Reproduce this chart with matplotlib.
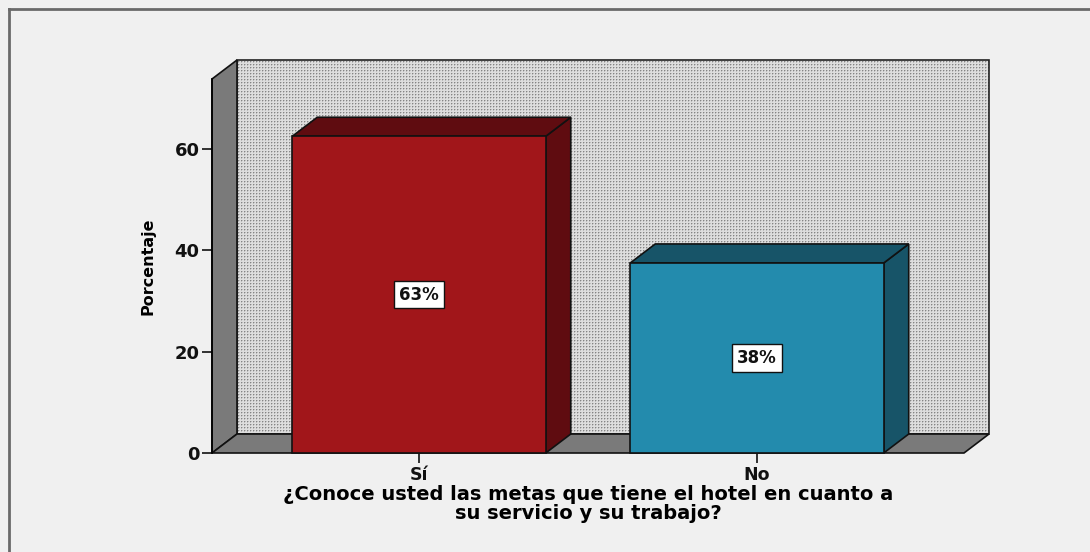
import matplotlib
matplotlib.use("Agg")
import numpy as np
import matplotlib.pyplot as plt
from matplotlib.patches import Polygon, Rectangle
from matplotlib.lines import Line2D

categories = ["Sí", "No"]
values = [62.5, 37.5]
labels = ["63%", "38%"]
yticks = [0, 20, 40, 60]
xlabel = "¿Conoce usted las metas que tiene el hotel en cuanto a\nsu servicio y su trabajo?"
ylabel = "Porcentaje"

front_colors = ["#A1161A", "#238BAD"]
dark_colors = ["#5F0C10", "#175468"]
bg = "#F0F0F0"
wall_grey = "#7A7A7A"

W, H = 1090, 552
fig = plt.figure(figsize=(W / 100, H / 100), dpi=100, facecolor=bg)

# axes region in pixels (front box)
L, R, B, T = 212, 964, 453, 79
ax = fig.add_axes([L / W, 1 - B / H, (R - L) / W, (B - T) / H])
ax.set_facecolor("none")
ymax = 73.8
xmin, xmax = -0.6125, 1.6125

ppx = (R - L) / (xmax - xmin)
ppy = (B - T) / ymax
dx = 25 / ppx
dy = 19 / ppy

# back wall: dotted texture
wpx, hpx = R - L, B - T
rr, cc = np.mgrid[0:hpx, 0:wpx]
ra, ca = rr % 3, cc % 3
tex = np.full((hpx, wpx), 0.87)
tex[((ra == 1) & (ca == 2)) | ((ra == 2) & (ca == 1))] = 0.74
tex[(ra == 1) & (ca == 1)] = 0.52
tex = np.repeat(tex[..., None], 3, axis=2)
ax.imshow(tex, extent=(xmin + dx, xmax + dx, dy, ymax + dy), origin="upper",
          interpolation="nearest", aspect="auto", clip_on=False, zorder=1)
ax.add_patch(Rectangle((xmin + dx, dy), xmax - xmin, ymax, facecolor="none",
                       edgecolor="#222222", lw=1.2, clip_on=False, zorder=1.5))
ax.set_xlim(xmin, xmax)
ax.set_ylim(0, ymax)
# left side wall
ax.add_patch(Polygon([(xmin, 0), (xmin + dx, dy), (xmin + dx, ymax + dy), (xmin, ymax)],
                     closed=True, facecolor=wall_grey, edgecolor="#111111", lw=1.2,
                     clip_on=False, zorder=2))
# floor
ax.add_patch(Polygon([(xmin, 0), (xmax, 0), (xmax + dx, dy), (xmin + dx, dy)],
                     closed=True, facecolor=wall_grey, edgecolor="#111111", lw=1.2,
                     clip_on=False, zorder=2))

bw = 0.75
for i, (v, fc, dc, lab) in enumerate(zip(values, front_colors, dark_colors, labels)):
    x0, x1 = i - bw / 2, i + bw / 2
    ax.add_patch(Polygon([(x1, 0), (x1 + dx, dy), (x1 + dx, v + dy), (x1, v)], closed=True,
                         facecolor=dc, edgecolor="#111111", lw=1.2, clip_on=False, zorder=3))
    ax.add_patch(Polygon([(x0, v), (x0 + dx, v + dy), (x1 + dx, v + dy), (x1, v)], closed=True,
                         facecolor=dc, edgecolor="#111111", lw=1.2, clip_on=False, zorder=3))
    ax.add_patch(Rectangle((x0, 0), bw, v, facecolor=fc, edgecolor="#111111", lw=1.2,
                           clip_on=False, zorder=4))
    ax.text(i, v / 2, lab, ha="center", va="center", fontsize=12, fontweight="bold",
            color="#111111", zorder=5,
            bbox=dict(boxstyle="square,pad=0.28", facecolor="white", edgecolor="#111111", lw=1))

for s in ["top", "right", "bottom"]:
    ax.spines[s].set_visible(False)
ax.spines["left"].set_linewidth(1.2)
ax.spines["left"].set_zorder(6)
ax.set_yticks(yticks)
ax.set_yticklabels([str(t) for t in yticks], fontsize=13, fontweight="bold")
ax.tick_params(axis="y", length=7, width=1.2, pad=2, colors="#111111")
ax.set_xticks(range(len(categories)))
ax.set_xticklabels(categories, fontsize=12.5, fontweight="bold")
ax.tick_params(axis="x", length=7, width=1.2, pad=2, colors="#111111")

ax.set_xlabel(xlabel, fontsize=14, fontweight="bold", linespacing=0.98, labelpad=1)
ax.set_ylabel(ylabel, fontsize=11.5, fontweight="bold", labelpad=14)

# outer frame (left and top edges)
fig.add_artist(Line2D([9 / W, 9 / W], [0, 1 - 9 / H], transform=fig.transFigure,
                      color="#6A6A6A", lw=2))
fig.add_artist(Line2D([9 / W, 1], [1 - 9 / H, 1 - 9 / H], transform=fig.transFigure,
                      color="#6A6A6A", lw=2))

fig.savefig("out.png", dpi=100, facecolor=bg)
